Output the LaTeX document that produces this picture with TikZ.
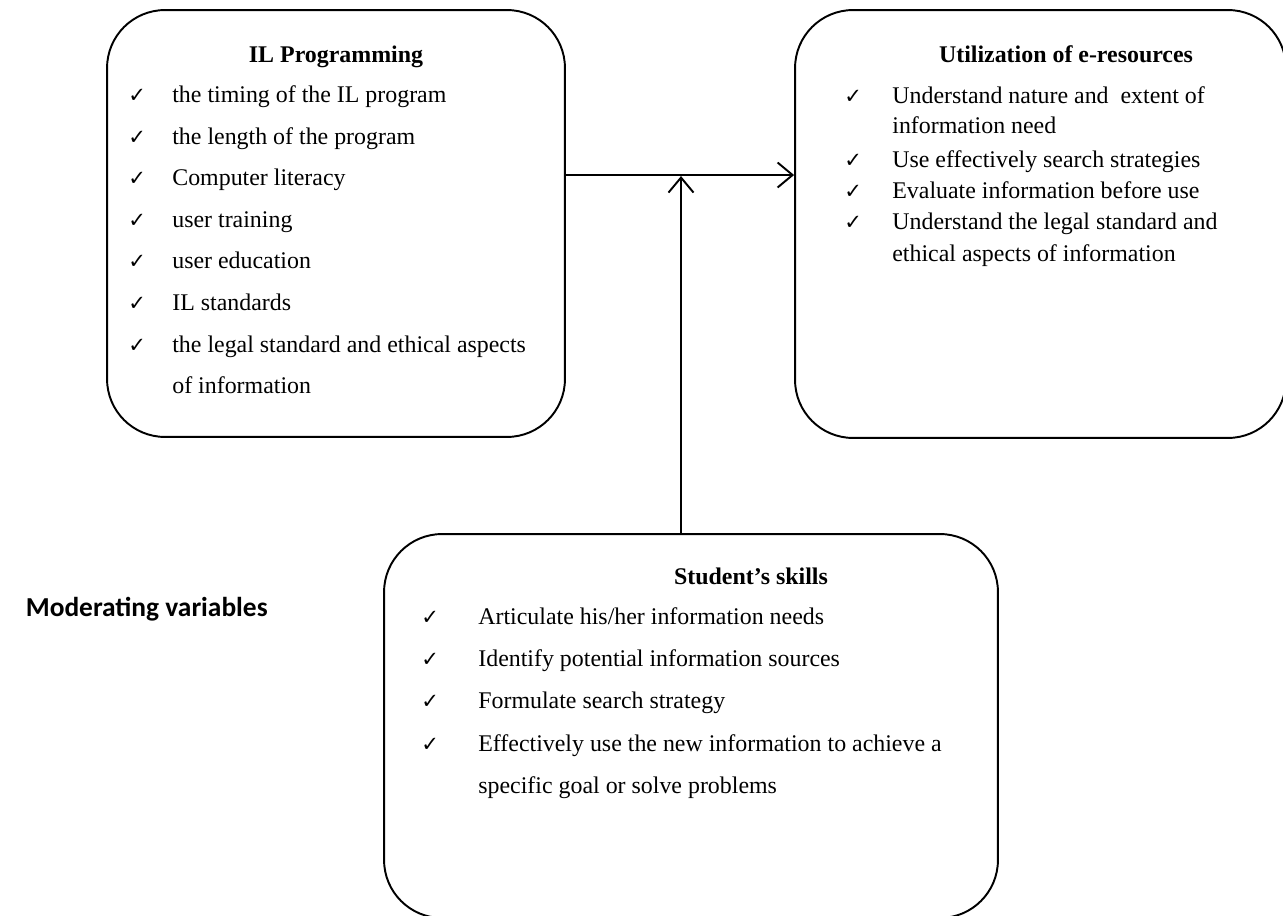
\documentclass[tikz,border=0pt]{standalone}
\usepackage{fontspec}
\setmainfont{Liberation Serif}
\newfontfamily\chkfont{DejaVu Sans}
\newfontfamily\labelfont{Carlito}
\usetikzlibrary{arrows.meta}

\newcommand{\tick}[1]{\makebox[#1][l]{\chkfont\bfseries\fontsize{12}{12}\selectfont ✓}}

\begin{document}
\begin{tikzpicture}[x=0.02cm,y=-0.02cm,
    box/.style={draw,line width=1.1pt,rounded corners=1.16cm},
    txt/.style={anchor=base west,inner sep=0pt,font=\fontsize{13.6}{16}\selectfont},
    head/.style={anchor=base,inner sep=0pt,font=\fontsize{13.6}{16}\selectfont\bfseries},
    arr/.style={line width=1.1pt,-{Straight Barb[length=3mm,width=5mm]}}]
    \useasboundingbox (0,0) rectangle (1283,915);

    \node[box,minimum width=9.16cm,minimum height=8.54cm] (prog) at (336,223.5) {};
    \node[box,minimum width=9.82cm,minimum height=8.56cm] (util) at (1040.5,224) {};
    \node[box,minimum width=12.28cm,minimum height=7.68cm] (skills) at (691,726) {};

    \coordinate (joint) at ([yshift=9.7mm]prog.east);
    \coordinate (foot) at ([xshift=-2mm]skills.north);
    \draw[arr] (joint)--(joint -| util.west);
    \draw[arr,shorten >=0.6pt] (foot)--(foot |- joint);

    \node[head] (progT) at (336,63) {IL Programming};
    \node[txt] (p1) at (128,103) {\tick{0.88cm}the timing of the IL program};
    \node[txt] (p2) at (128,144.5) {\tick{0.88cm}the length of the program};
    \node[txt] (p3) at (128,186) {\tick{0.88cm}Computer literacy};
    \node[txt] (p4) at (128,227.5) {\tick{0.88cm}user training};
    \node[txt] (p5) at (128,269) {\tick{0.88cm}user education};
    \node[txt] (p6) at (128,310.5) {\tick{0.88cm}IL standards};
    \node[txt] (p7) at (128,352) {\tick{0.88cm}the legal standard and ethical aspects};
    \node[txt] (p7b) at (172,393.5) {of information};

    \node[head] (utilT) at (1066,63) {Utilization of e-resources};
    \node[txt] (u1) at (844,104) {\tick{0.96cm}Understand nature and\ \ extent of};
    \node[txt] (u1b) at (892,134) {information need};
    \node[txt] (u2) at (844,168) {\tick{0.96cm}Use effectively search strategies};
    \node[txt] (u3) at (844,199) {\tick{0.96cm}Evaluate information before use};
    \node[txt] (u4) at (844,230) {\tick{0.96cm}Understand the legal standard and};
    \node[txt] (u4b) at (892,261) {ethical aspects of information};

    \node[head] (skillT) at (751,584) {Student’s skills};
    \node[txt] (s1) at (421,624) {\tick{1.14cm}Articulate his/her information needs};
    \node[txt] (s2) at (421,666) {\tick{1.14cm}Identify potential information sources};
    \node[txt] (s3) at (421,708) {\tick{1.14cm}Formulate search strategy};
    \node[txt] (s4) at (421,751) {\tick{1.14cm}Effectively use the new information to achieve a};
    \node[txt] (s4b) at (478,793) {specific goal or solve problems};

    \node[anchor=base east,inner sep=0pt,font=\labelfont\bfseries\fontsize{15.6}{19}\selectfont] (modvar) at (268,616) {Moderating variables};
\end{tikzpicture}
\end{document}
